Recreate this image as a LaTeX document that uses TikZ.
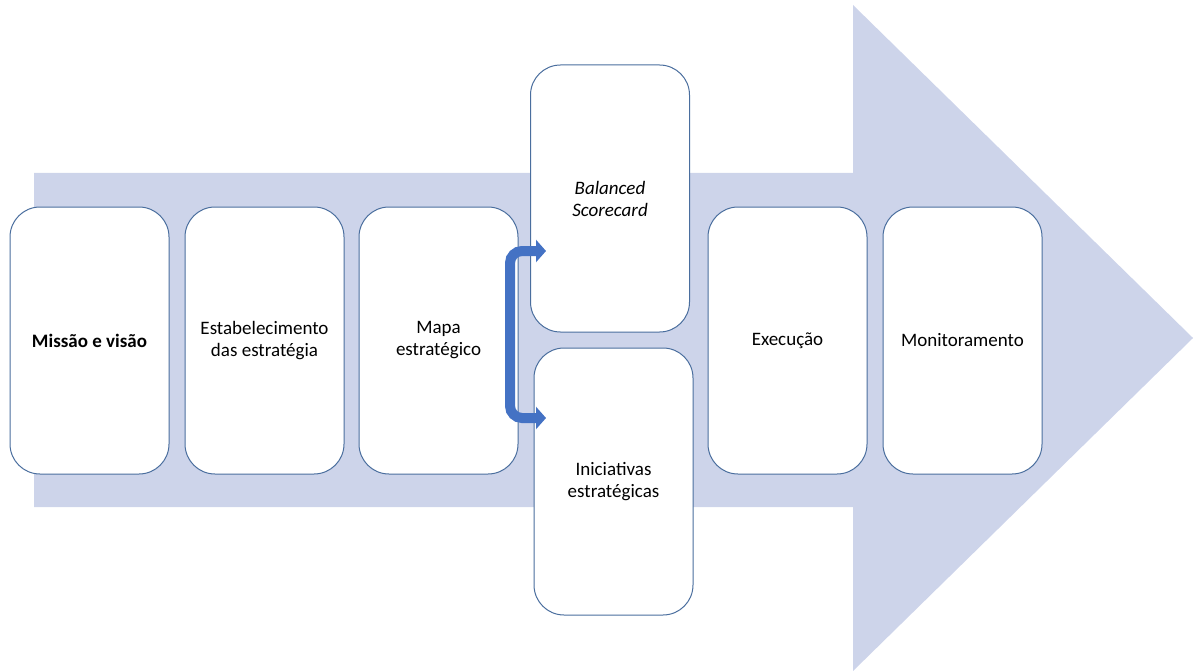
\documentclass[tikz,border=0pt]{standalone}
\usepackage{fontspec}
\setmainfont{Carlito}
\usetikzlibrary{arrows.meta}
\definecolor{arrowfill}{HTML}{CDD4EA}
\definecolor{boxline}{HTML}{4A6E9E}
\definecolor{connblue}{HTML}{4472C4}
\begin{document}
\begin{tikzpicture}[x=1pt,y=-1pt,
  stage/.style={draw=boxline, line width=1pt, fill=white, rounded corners=30pt,
    minimum width=159pt, minimum height=267pt, inner sep=2pt, align=center,
    font=\fontsize{19}{22}\selectfont},
  conn/.style={draw=connblue, line width=10pt, rounded corners=12pt,
    -{Triangle[length=10pt,width=22pt]}}]
\useasboundingbox (0,0) rectangle (1193,671);
\fill[arrowfill] (34,173) -- (853,173) -- (853,5) -- (1193,338) -- (853,671)
  -- (853,507) -- (34,507) -- cycle;
\node[stage] (m1) at (89.5,340.5) {\textbf{Missão e visão}};
\node[stage] (m2) at (264.5,340.5) {Estabelecimento\\das estratégia};
\node[stage] (m3) at (438.5,340.5) {Mapa\\estratégico};
\node[stage] (bsc) at (610,198.5) {\textit{Balanced}\\\textit{Scorecard}};
\node[stage] (ini) at (613.5,481.5) {Iniciativas\\estratégicas};
\node[stage] (exe) at (787.5,340.5) {Execução};
\node[stage] (mon) at (962.5,340.5) {Monitoramento};
\coordinate (split) at (510,333);
\coordinate (bscin) at (546,251);
\coordinate (iniin) at (546,418);
\draw[conn] (split) |- (bscin);
\draw[conn] (split) |- (iniin);
\end{tikzpicture}
\end{document}
